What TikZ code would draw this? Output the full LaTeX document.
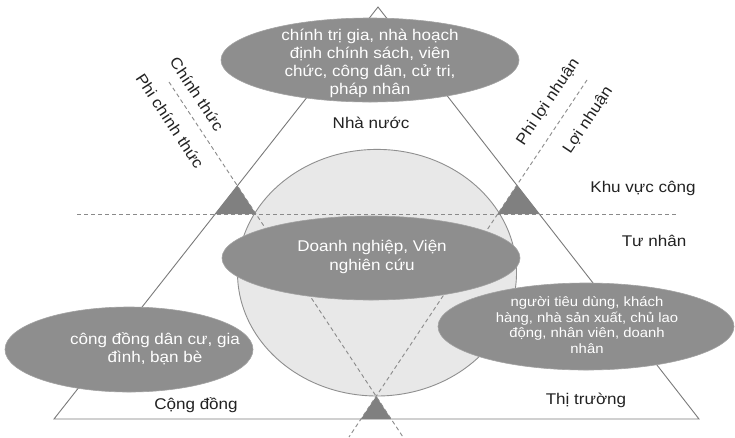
\documentclass[tikz,border=0pt]{standalone}
\usepackage{fontspec}
\setmainfont{Liberation Sans}[FakeStretch=1.1]
\usetikzlibrary{calc}
\definecolor{blobgray}{HTML}{8E8E8E}
\definecolor{blobedge}{HTML}{A2A2A2}
\definecolor{tri}{HTML}{808080}
\definecolor{linegray}{HTML}{7A7A7A}
\definecolor{circfill}{HTML}{E8E8E8}
\definecolor{circedge}{HTML}{8F8F8F}
\definecolor{dashgray}{HTML}{8A8A8A}
\definecolor{labelcol}{HTML}{222222}
\tikzset{
  blob/.style={fill=blobgray, draw=blobedge, line width=0.6pt},
  dashline/.style={draw=dashgray, line width=0.9pt, dash pattern=on 4pt off 3pt},
  greytri/.style={fill=tri},
  blobtext/.style={text=white, align=center, inner sep=0pt, font=\fontsize{15.5}{18}\selectfont},
  lbl/.style={text=labelcol, inner sep=0pt, font=\fontsize{15.5}{18}\selectfont},
}
\begin{document}
\begin{tikzpicture}[x=1pt,y=-1pt]
\useasboundingbox (0,0) rectangle (735,437);
\fill[white] (0,0) rectangle (735,437);
% key points
\coordinate (A) at (378,7);
\coordinate (BL) at (54,419);
\coordinate (BR) at (699,419);
\coordinate (LD1) at (169,82);
\coordinate (LD2) at (403,437);
\coordinate (RD1) at (587,80);
\coordinate (RD2) at (349,437);
\coordinate (H1) at (77,214);
\coordinate (H2) at (677,214);
% main triangle
\draw[linegray, line width=0.9pt] (A) -- (BL) -- (BR) -- cycle;
% circle
\coordinate (C) at (377,272.7);
\draw[fill=circfill, draw=circedge, line width=0.9pt] (C) ellipse [x radius=139.5, y radius=123.3];
% grey triangles
\fill[greytri] (intersection of A--BL and LD1--LD2) -- (intersection of A--BL and H1--H2) -- (intersection of LD1--LD2 and H1--H2) -- cycle;
\fill[greytri] (intersection of A--BR and RD1--RD2) -- (intersection of A--BR and H1--H2) -- (intersection of RD1--RD2 and H1--H2) -- cycle;
\fill[greytri] (intersection of LD1--LD2 and RD1--RD2) -- (intersection of LD1--LD2 and BL--BR) -- (intersection of RD1--RD2 and BL--BR) -- cycle;
% dashed lines
\draw[dashline] (H1) -- (H2);
\draw[dashline] (LD1) -- (LD2);
\draw[dashline] (RD1) -- (RD2);
% ellipses
\coordinate (Etop) at (370,60);
\coordinate (Emid) at (371,258);
\coordinate (Eleft) at (129,349.5);
\coordinate (Eright) at (586,326.5);
\path[blob] (Etop) ellipse [x radius=149, y radius=42];
\path[blob] (Emid) ellipse [x radius=149, y radius=42];
\path[blob] (Eleft) ellipse [x radius=124, y radius=42.5];
\path[blob] (Eright) ellipse [x radius=148, y radius=43.5];
% ellipse texts
\node[blobtext] (ttop) at (370,63) {chính trị gia, nhà hoạch\\định chính sách, viên\\chức, công dân, cử tri,\\pháp nhân};
\node[blobtext, font=\fontsize{15.5}{19}\selectfont] (tmid) at (372,257) {Doanh nghiệp, Viện\\nghiên cứu};
\node[blobtext] (tleft) at (155,349) {công đồng dân cư, gia\\đình, bạn bè};
\node[blobtext, font=\fontsize{13.5}{15.5}\selectfont] (tright) at (587,325) {người tiêu dùng, khách\\hàng, nhà sản xuất, chủ lao\\động, nhân viên, doanh\\nhân};
% labels
\node[lbl] (nn) at (371,123) {Nhà nước};
\node[lbl] (cd) at (196,405) {Cộng đồng};
\node[lbl] (tt) at (586,400) {Thị trường};
\node[lbl] (kvc) at (643,188) {Khu vực công};
\node[lbl] (tn) at (654,241) {Tư nhân};
\node[lbl, rotate=-56.6] (ct) at (197,94) {Chính thức};
\node[lbl, rotate=-56.6] (pct) at (170,121) {Phi chính thức};
\node[lbl, rotate=56.3] (pln) at (548,102) {Phi lợi nhuận};
\node[lbl, rotate=56.3] (ln) at (588,120) {Lợi nhuận};
\end{tikzpicture}
\end{document}
